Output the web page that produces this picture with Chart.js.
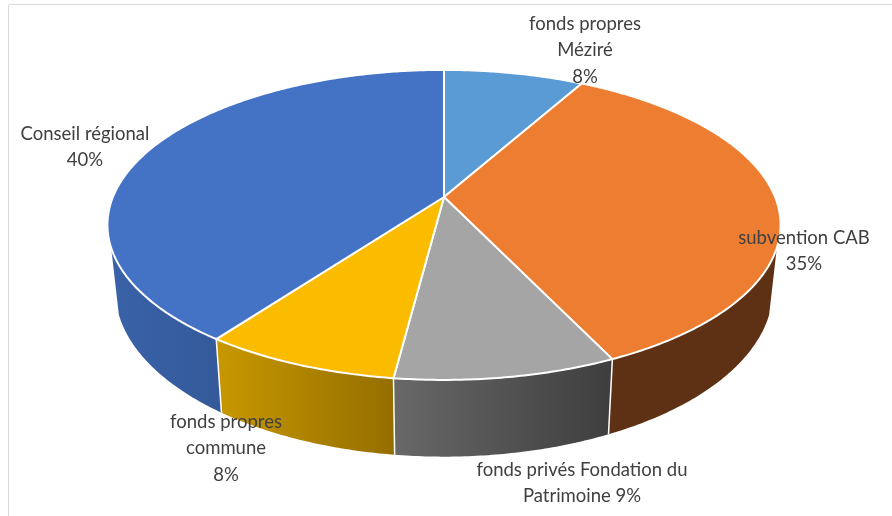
<!DOCTYPE html>
<html>
<head>
<meta charset="utf-8">
<style>
    html, body { margin: 0; padding: 0; background: #fff; }
    #wrap { position: relative; width: 892px; height: 516px; overflow: hidden; }
    #frame { position: absolute; left: 8px; top: 4px; width: 900px; height: 600px; border: 1px solid #d9d9d9; border-radius: 2px; }
    canvas { position: absolute; left: 0; top: 0; }
</style>
<script src="https://cdn.jsdelivr.net/npm/chart.js@4"></script>
</head>
<body>
<div id="wrap">
    <div id="frame"></div>
    <canvas id="pieChart" width="892" height="516"></canvas>
</div>
<script>
const categories = ['fonds propres Méziré', 'subvention CAB', 'fonds privés Fondation du Patrimoine', 'fonds propres commune', 'Conseil régional'];
const values = [8, 35, 9, 8, 40];
const labelLines = [
    ['fonds propres', 'Méziré', '8%'],
    ['subvention CAB', '35%'],
    ['fonds privés Fondation du', 'Patrimoine 9%'],
    ['fonds propres', 'commune', '8%'],
    ['Conseil régional', '40%']
];

const topColors = ['#5B9BD5', '#ED7D31', '#A5A5A5', '#FBBC00', '#4472C4'];
// left and right colour of the outer wall of each slice
const wallColors = [['#37618a', '#37618a'], ['#5f3114', '#5f3114'], ['#686868', '#3e3e3e'], ['#c89800', '#946e00'], ['#3a62a8', '#345a9b']];
const labelPos = [[585, 24], [804, 238], [582, 470], [226, 422], [85, 134]];

// the pie is drawn on a tilted plane, seen in perspective
const STRETCH = 2.207;
const PERSPECTIVE = 0.18;
const WALL_START = 0.326; // radians, below this the wall is hidden behind the top
const WALL_SCALE_X = 0.977;
const WALL_SCALE_Y = 1.075;
const WALL_DROP = 63;

function project(arc, angle) {
    const w = 1 - PERSPECTIVE * Math.sin(angle);
    return {
        x: arc.outerRadius * STRETCH * Math.cos(angle) / w,
        y: arc.outerRadius * Math.sin(angle) / w
    };
}

function topPoint(arc, angle) {
    const p = project(arc, angle);
    return {x: arc.x + p.x, y: arc.y + p.y};
}

function wallPoint(arc, angle) {
    const p = project(arc, angle);
    return {x: arc.x + p.x * WALL_SCALE_X, y: arc.y + p.y * WALL_SCALE_Y + WALL_DROP};
}

function angleSteps(from, to) {
    const steps = [];
    const n = Math.max(2, Math.ceil((to - from) / 0.01));
    for (let i = 0; i <= n; i++) {
        steps.push(from + (to - from) * i / n);
    }
    return steps;
}

const pie3d = {
    id: 'pie3d',
    beforeDatasetsDraw(chart) {
        const ctx = chart.ctx;
        const arcs = chart.getDatasetMeta(0).data;

        // walls first, the top is painted over them
        arcs.forEach((arc, i) => {
            const from = Math.max(arc.startAngle, WALL_START);
            const to = Math.min(arc.endAngle, Math.PI - WALL_START);
            if (to <= from) return;
            const steps = angleSteps(from, to);
            const a = topPoint(arc, from);
            const b = topPoint(arc, to);
            const grad = ctx.createLinearGradient(Math.min(a.x, b.x), 0, Math.max(a.x, b.x), 0);
            grad.addColorStop(0, wallColors[i][0]);
            grad.addColorStop(1, wallColors[i][1]);
            ctx.beginPath();
            steps.forEach(t => {
                const p = topPoint(arc, t);
                ctx.lineTo(p.x, p.y);
            });
            steps.slice().reverse().forEach(t => {
                const p = wallPoint(arc, t);
                ctx.lineTo(p.x, p.y);
            });
            ctx.closePath();
            ctx.fillStyle = grad;
            ctx.fill();
        });

        // white seams between the walls
        ctx.strokeStyle = '#fff';
        ctx.lineWidth = 1.5;
        arcs.forEach(arc => {
            if (arc.endAngle <= WALL_START || arc.endAngle >= Math.PI - WALL_START) return;
            const a = topPoint(arc, arc.endAngle);
            const b = wallPoint(arc, arc.endAngle);
            ctx.beginPath();
            ctx.moveTo(a.x, a.y);
            ctx.lineTo(b.x, b.y);
            ctx.stroke();
        });

        arcs.forEach(arc => {
            ctx.beginPath();
            ctx.moveTo(arc.x, arc.y);
            angleSteps(arc.startAngle, arc.endAngle).forEach(t => {
                const p = topPoint(arc, t);
                ctx.lineTo(p.x, p.y);
            });
            ctx.closePath();
            ctx.fillStyle = arc.options.backgroundColor;
            ctx.fill();
            ctx.strokeStyle = arc.options.borderColor;
            ctx.lineWidth = arc.options.borderWidth;
            ctx.lineJoin = 'round';
            ctx.stroke();
        });
        return false;
    },
    afterDraw(chart) {
        const ctx = chart.ctx;
        ctx.font = '18.5px Lato';
        ctx.fillStyle = '#404040';
        ctx.textAlign = 'center';
        ctx.textBaseline = 'middle';
        labelLines.forEach((lines, i) => {
            lines.forEach((line, j) => {
                ctx.fillText(line, labelPos[i][0], labelPos[i][1] + j * 26.5);
            });
        });
    }
};

new Chart(document.getElementById('pieChart').getContext('2d'), {
    type: 'pie',
    data: {
        labels: categories,
        datasets: [{
            data: values,
            backgroundColor: topColors,
            borderColor: '#fff',
            borderWidth: 2
        }]
    },
    options: {
        responsive: false,
        animation: false,
        layout: {padding: {left: 0, right: 4, top: 46, bottom: 168}},
        plugins: {
            legend: {display: false},
            tooltip: {enabled: false}
        }
    },
    plugins: [pie3d]
});
</script>
</body>
</html>
